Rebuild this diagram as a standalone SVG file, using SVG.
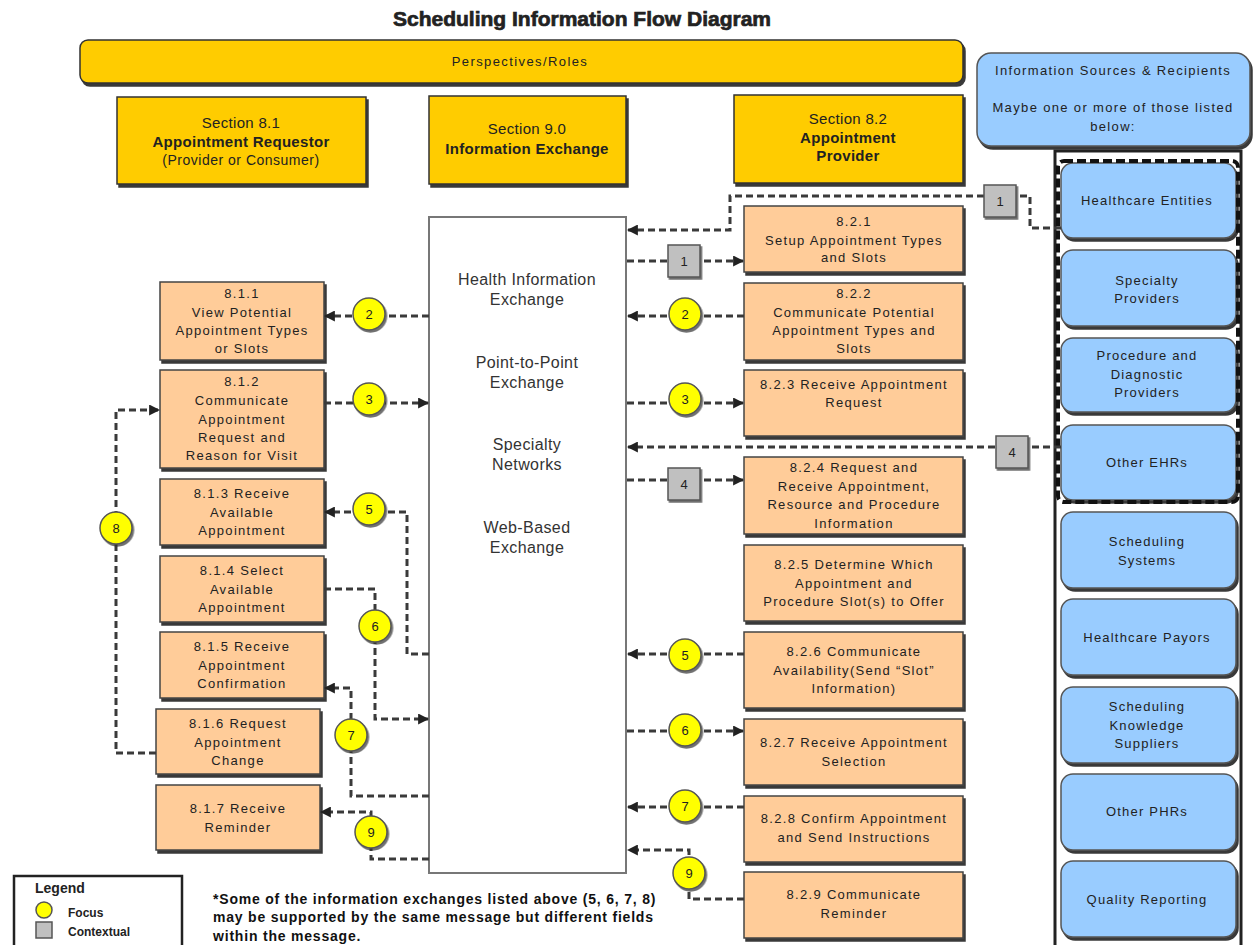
<svg xmlns="http://www.w3.org/2000/svg" width="1254" height="945" viewBox="0 0 1254 945">
<style>
.t{font-family:"Liberation Sans",Arial,sans-serif;fill:#222;text-anchor:middle}
.bx{font-size:13px;letter-spacing:1.3px}
.bl{font-size:13px;letter-spacing:1.2px}
.hd{font-size:15px;letter-spacing:0.3px}
.b{font-weight:bold}
.cx{font-size:16px;fill:#333;letter-spacing:0.4px}
.peach{fill:#FFCC99;stroke:#444;stroke-width:1.5}
.gold{fill:#FFCC00;stroke:#333;stroke-width:1.5}
.blue{fill:#99CCFF;stroke:#555;stroke-width:1.5}
.focus{fill:#FFFF00;stroke:#555;stroke-width:1.5}
.ctx{fill:#C0C0C0;stroke:#555;stroke-width:1.5}
.num{font-family:"Liberation Sans",Arial,sans-serif;font-size:13px;fill:#222;text-anchor:middle}
.c{fill:none;stroke:#3a3a3a;stroke-width:3;stroke-dasharray:7 4}
.ca{fill:none;stroke:#3a3a3a;stroke-width:3;stroke-dasharray:7 4;marker-end:url(#ah)}
</style>
<defs>
<filter id="sh" x="-10%" y="-10%" width="130%" height="130%">
<feDropShadow dx="2" dy="3" stdDeviation="0.4" flood-color="#222" flood-opacity="0.9"/>
</filter>
<filter id="sh2" x="-20%" y="-20%" width="150%" height="150%">
<feDropShadow dx="1.5" dy="2" stdDeviation="0.6" flood-color="#333" flood-opacity="0.7"/>
</filter>
<marker id="ah" viewBox="0 0 10 10" refX="9" refY="5" markerUnits="userSpaceOnUse" markerWidth="11" markerHeight="11" orient="auto">
<path d="M0,0 L10,5 L0,10 z" fill="#222"/>
</marker>
</defs>
<rect width="1254" height="945" fill="#fff"/>

<text x="582" y="26" class="t b" style="font-size:21px;stroke:#222;stroke-width:0.7">Scheduling Information Flow Diagram</text>

<g id="perspectives">
<rect x="80" y="40" width="883" height="43" rx="8" class="gold" filter="url(#sh)"/>
<text x="520" y="66" class="t" style="font-size:13px;letter-spacing:1.4px">Perspectives/Roles</text>
</g>

<g id="sec81">
<rect x="117" y="97" width="249" height="87" class="gold" filter="url(#sh)"/>
<text x="241" y="128" class="t hd">Section 8.1</text>
<text x="241" y="147" class="t hd b">Appointment Requestor</text>
<text x="241" y="165" class="t" style="font-size:14px;letter-spacing:0.5px">(Provider or Consumer)</text>
</g>
<g id="sec90">
<rect x="429" y="96" width="197" height="88" class="gold" filter="url(#sh)"/>
<text x="527" y="134" class="t hd">Section 9.0</text>
<text x="527" y="154" class="t hd b">Information Exchange</text>
</g>
<g id="sec82">
<rect x="734" y="95" width="229" height="88" class="gold" filter="url(#sh)"/>
<text x="848" y="124" class="t hd">Section 8.2</text>
<text x="848" y="143" class="t hd b">Appointment</text>
<text x="848" y="161" class="t hd b">Provider</text>
</g>

<g id="infosources">
<rect x="977" y="53" width="273" height="93" rx="14" class="blue" filter="url(#sh)"/>
<text x="1113" y="75" class="t" style="font-size:13px;letter-spacing:1.35px">Information Sources &amp; Recipients</text>
<text x="1113" y="112" class="t" style="font-size:13px;letter-spacing:1.35px">Maybe one or more of those listed</text>
<text x="1113" y="131" class="t" style="font-size:13px;letter-spacing:1.35px">below:</text>
</g>

<g id="exchange">
<rect x="429" y="217" width="197" height="656" fill="#fff" stroke="#777" stroke-width="2"/>
<text x="527" y="285" class="t cx">Health Information</text>
<text x="527" y="305" class="t cx">Exchange</text>
<text x="527" y="368" class="t cx">Point-to-Point</text>
<text x="527" y="388" class="t cx">Exchange</text>
<text x="527" y="450" class="t cx">Specialty</text>
<text x="527" y="470" class="t cx">Networks</text>
<text x="527" y="533" class="t cx">Web-Based</text>
<text x="527" y="553" class="t cx">Exchange</text>
</g>

<g id="n811"><rect x="160" y="282" width="164" height="78" class="peach" filter="url(#sh)"/>
<text x="242" y="298" class="t bx">8.1.1</text><text x="242" y="317" class="t bx">View Potential</text><text x="242" y="335" class="t bx">Appointment Types</text><text x="242" y="353" class="t bx">or Slots</text></g>
<g id="n812"><rect x="160" y="370" width="164" height="98" class="peach" filter="url(#sh)"/>
<text x="242" y="386" class="t bx">8.1.2</text><text x="242" y="405" class="t bx">Communicate</text><text x="242" y="424" class="t bx">Appointment</text><text x="242" y="442" class="t bx">Request and</text><text x="242" y="460" class="t bx">Reason for Visit</text></g>
<g id="n813"><rect x="160" y="479" width="164" height="66" class="peach" filter="url(#sh)"/>
<text x="242" y="498" class="t bx">8.1.3  Receive</text><text x="242" y="517" class="t bx">Available</text><text x="242" y="535" class="t bx">Appointment</text></g>
<g id="n814"><rect x="160" y="556" width="164" height="66" class="peach" filter="url(#sh)"/>
<text x="242" y="575" class="t bx">8.1.4 Select</text><text x="242" y="594" class="t bx">Available</text><text x="242" y="612" class="t bx">Appointment</text></g>
<g id="n815"><rect x="160" y="632" width="164" height="66" class="peach" filter="url(#sh)"/>
<text x="242" y="651" class="t bx">8.1.5 Receive</text><text x="242" y="670" class="t bx">Appointment</text><text x="242" y="688" class="t bx">Confirmation</text></g>
<g id="n816"><rect x="156" y="709" width="164" height="65" class="peach" filter="url(#sh)"/>
<text x="238" y="728" class="t bx">8.1.6 Request</text><text x="238" y="747" class="t bx">Appointment</text><text x="238" y="765" class="t bx">Change</text></g>
<g id="n817"><rect x="156" y="785" width="164" height="65" class="peach" filter="url(#sh)"/>
<text x="238" y="813" class="t bx">8.1.7 Receive</text><text x="238" y="832" class="t bx">Reminder</text></g>

<g id="n821"><rect x="744" y="206" width="219" height="66" class="peach" filter="url(#sh)"/>
<text x="854" y="226" class="t bx">8.2.1</text><text x="854" y="245" class="t bx">Setup Appointment Types</text><text x="854" y="262" class="t bx">and Slots</text></g>
<g id="n822"><rect x="744" y="283" width="219" height="77" class="peach" filter="url(#sh)"/>
<text x="854" y="298" class="t bx">8.2.2</text><text x="854" y="317" class="t bx">Communicate Potential</text><text x="854" y="335" class="t bx">Appointment Types and</text><text x="854" y="353" class="t bx">Slots</text></g>
<g id="n823"><rect x="744" y="370" width="219" height="66" class="peach" filter="url(#sh)"/>
<text x="854" y="389" class="t bx">8.2.3 Receive Appointment</text><text x="854" y="407" class="t bx">Request</text></g>
<g id="n824"><rect x="744" y="457" width="219" height="77" class="peach" filter="url(#sh)"/>
<text x="854" y="472" class="t bx">8.2.4  Request and</text><text x="854" y="491" class="t bx">Receive Appointment,</text><text x="854" y="509" class="t bx">Resource and Procedure</text><text x="854" y="528" class="t bx">Information</text></g>
<g id="n825"><rect x="744" y="545" width="219" height="76" class="peach" filter="url(#sh)"/>
<text x="854" y="569" class="t bx">8.2.5 Determine Which</text><text x="854" y="588" class="t bx">Appointment and</text><text x="854" y="606" class="t bx">Procedure Slot(s) to Offer</text></g>
<g id="n826"><rect x="744" y="632" width="219" height="76" class="peach" filter="url(#sh)"/>
<text x="854" y="656" class="t bx">8.2.6 Communicate</text><text x="854" y="675" class="t bx">Availability(Send “Slot”</text><text x="854" y="693" class="t bx">Information)</text></g>
<g id="n827"><rect x="744" y="719" width="219" height="66" class="peach" filter="url(#sh)"/>
<text x="854" y="747" class="t bx">8.2.7 Receive Appointment</text><text x="854" y="766" class="t bx">Selection</text></g>
<g id="n828"><rect x="744" y="796" width="219" height="66" class="peach" filter="url(#sh)"/>
<text x="854" y="823" class="t bx">8.2.8 Confirm Appointment</text><text x="854" y="842" class="t bx">and Send Instructions</text></g>
<g id="n829"><rect x="744" y="872" width="219" height="66" class="peach" filter="url(#sh)"/>
<text x="854" y="899" class="t bx">8.2.9 Communicate</text><text x="854" y="918" class="t bx">Reminder</text></g>

<g id="sources">
<rect x="1055" y="151" width="186" height="800" fill="none" stroke="#222" stroke-width="3"/>
<g id="s1"><rect x="1061" y="163" width="175" height="75" rx="12" class="blue" filter="url(#sh)"/><text x="1147" y="205" class="t bl">Healthcare Entities</text></g>
<g id="s2"><rect x="1061" y="250" width="175" height="76" rx="12" class="blue" filter="url(#sh)"/><text x="1147" y="285" class="t bl">Specialty</text><text x="1147" y="303" class="t bl">Providers</text></g>
<g id="s3"><rect x="1061" y="338" width="175" height="74" rx="12" class="blue" filter="url(#sh)"/><text x="1147" y="360" class="t bl">Procedure and</text><text x="1147" y="379" class="t bl">Diagnostic</text><text x="1147" y="397" class="t bl">Providers</text></g>
<g id="s4"><rect x="1061" y="425" width="175" height="75" rx="12" class="blue" filter="url(#sh)"/><text x="1147" y="467" class="t bl">Other EHRs</text></g>
<rect x="1058" y="161" width="180" height="341" rx="6" fill="none" stroke="#111" stroke-width="4" stroke-dasharray="9 4"/>
<g id="s5"><rect x="1061" y="512" width="175" height="76" rx="12" class="blue" filter="url(#sh)"/><text x="1147" y="546" class="t bl">Scheduling</text><text x="1147" y="565" class="t bl">Systems</text></g>
<g id="s6"><rect x="1061" y="599" width="175" height="76" rx="12" class="blue" filter="url(#sh)"/><text x="1147" y="642" class="t bl">Healthcare Payors</text></g>
<g id="s7"><rect x="1061" y="687" width="175" height="76" rx="12" class="blue" filter="url(#sh)"/><text x="1147" y="711" class="t bl">Scheduling</text><text x="1147" y="730" class="t bl">Knowledge</text><text x="1147" y="748" class="t bl">Suppliers</text></g>
<g id="s8"><rect x="1061" y="774" width="175" height="76" rx="12" class="blue" filter="url(#sh)"/><text x="1147" y="816" class="t bl">Other PHRs</text></g>
<g id="s9"><rect x="1061" y="861" width="175" height="76" rx="12" class="blue" filter="url(#sh)"/><text x="1147" y="904" class="t bl">Quality Reporting</text></g>
</g>

<g id="connectors">
<path class="c" d="M1061,228 H1030 V196 H1016"/>
<path class="ca" d="M984,196 H730 V230 H628"/>
<path class="ca" d="M627,261 H743"/>
<path class="ca" d="M744,316 H628"/>
<path class="ca" d="M429,316 H325"/>
<path class="ca" d="M324,403 H428"/>
<path class="ca" d="M627,403 H743"/>
<path class="ca" d="M1061,447 H628"/>
<path class="ca" d="M627,480 H743"/>
<path class="ca" d="M744,654 H628"/>
<path class="ca" d="M429,654 H407 V512 H325"/>
<path class="ca" d="M324,589 H375 V719 H428"/>
<path class="ca" d="M627,731 H743"/>
<path class="ca" d="M744,807 H628"/>
<path class="ca" d="M429,796 H351 V688 H325"/>
<path class="ca" d="M156,753 H116 V410 H159"/>
<path class="ca" d="M429,859 H371 V812 H321"/>
<path class="ca" d="M744,899 H689 V850 H628"/>
</g>

<g id="labels">
<g><rect x="984" y="185" width="32" height="32" class="ctx" filter="url(#sh2)"/><text x="1000" y="206" class="num">1</text></g>
<g><rect x="668" y="245" width="32" height="32" class="ctx" filter="url(#sh2)"/><text x="684" y="266" class="num">1</text></g>
<g><circle cx="685" cy="314" r="16" class="focus" filter="url(#sh2)"/><text x="685" y="319" class="num">2</text></g>
<g><circle cx="369" cy="314" r="16" class="focus" filter="url(#sh2)"/><text x="369" y="319" class="num">2</text></g>
<g><circle cx="369" cy="399" r="16" class="focus" filter="url(#sh2)"/><text x="369" y="404" class="num">3</text></g>
<g><circle cx="685" cy="399" r="16" class="focus" filter="url(#sh2)"/><text x="685" y="404" class="num">3</text></g>
<g><rect x="996" y="436" width="32" height="32" class="ctx" filter="url(#sh2)"/><text x="1012" y="457" class="num">4</text></g>
<g><rect x="668" y="468" width="32" height="32" class="ctx" filter="url(#sh2)"/><text x="684" y="489" class="num">4</text></g>
<g><circle cx="369" cy="509" r="16" class="focus" filter="url(#sh2)"/><text x="369" y="514" class="num">5</text></g>
<g><circle cx="685" cy="655" r="16" class="focus" filter="url(#sh2)"/><text x="685" y="660" class="num">5</text></g>
<g><circle cx="375" cy="626" r="16" class="focus" filter="url(#sh2)"/><text x="375" y="631" class="num">6</text></g>
<g><circle cx="685" cy="730" r="16" class="focus" filter="url(#sh2)"/><text x="685" y="735" class="num">6</text></g>
<g><circle cx="351" cy="735" r="16" class="focus" filter="url(#sh2)"/><text x="351" y="740" class="num">7</text></g>
<g><circle cx="685" cy="806" r="16" class="focus" filter="url(#sh2)"/><text x="685" y="811" class="num">7</text></g>
<g><circle cx="116" cy="528" r="16" class="focus" filter="url(#sh2)"/><text x="116" y="533" class="num">8</text></g>
<g><circle cx="371" cy="832" r="16" class="focus" filter="url(#sh2)"/><text x="371" y="837" class="num">9</text></g>
<g><circle cx="689" cy="873" r="16" class="focus" filter="url(#sh2)"/><text x="689" y="878" class="num">9</text></g>
</g>

<g id="legend">
<rect x="14" y="876" width="168" height="75" fill="#fff" stroke="#222" stroke-width="2.5"/>
<text x="35" y="893" style="font-family:'Liberation Sans',Arial,sans-serif;font-size:14px;font-weight:bold;fill:#222">Legend</text>
<circle cx="44" cy="910" r="8" class="focus"/>
<text x="68" y="917" style="font-family:'Liberation Sans',Arial,sans-serif;font-size:12px;font-weight:bold;fill:#222">Focus</text>
<rect x="36" y="922" width="16" height="16" class="ctx"/>
<text x="68" y="936" style="font-family:'Liberation Sans',Arial,sans-serif;font-size:12px;font-weight:bold;fill:#222">Contextual</text>
</g>

<g id="footnote" style="font-family:'Liberation Sans',Arial,sans-serif;font-size:14px;font-weight:bold;fill:#111;letter-spacing:0.8px">
<text x="213" y="904">*Some of the information exchanges listed above (5, 6, 7, 8)</text>
<text x="213" y="922">may be supported by the same message but different fields</text>
<text x="213" y="941">within the message.</text>
</g>
</svg>
